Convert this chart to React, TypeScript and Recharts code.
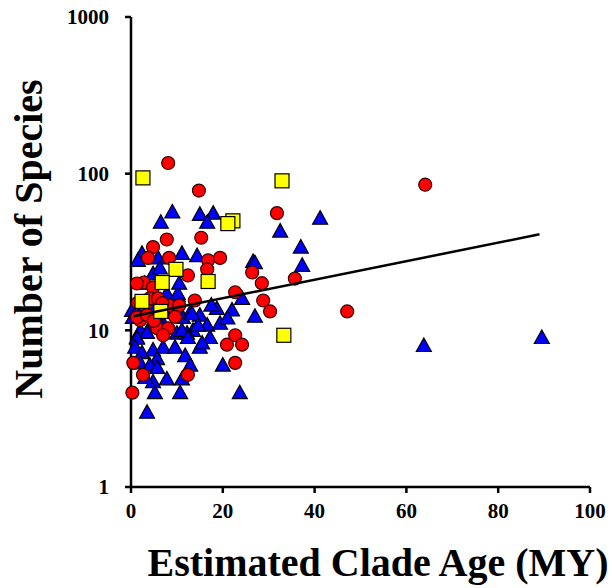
import { Label, Scatter, ScatterChart, XAxis, YAxis } from 'recharts';

// clade age (MY), number of species
const triangles: [number, number][] = [
  [9, 57], [6.5, 49], [15, 55], [17.9, 56], [16.6, 49], [32.5, 43], [37, 34], [37.3, 26],
  [26.6, 27.5], [27, 27], [14.4, 30], [11.1, 31], [2.4, 31], [1.5, 28], [41.2, 52], [63.8, 8], [89.5, 9],
  [5.9, 29], [4.8, 23], [6.3, 25], [7.8, 16.2], [10.2, 16.7], [0.2, 13.4], [0.4, 12.1], [2.0, 13],
  [8.5, 13], [11.3, 12.1], [12.9, 13], [15, 12.5], [13.5, 10], [16.6, 10.8], [12.2, 9.6], [10, 9.6],
  [2, 10], [1.3, 9], [4.1, 10.5], [7, 11.1], [7.8, 17.2], [10.2, 17.2], [13.3, 12.8], [18.7, 13.8],
  [19.4, 11.1], [24.2, 16], [27, 12.3], [3.5, 9.7], [6.3, 11.1], [11.1, 10], [12.4, 9], [14.6, 10.8],
  [17.2, 9], [15, 7.8], [1.3, 8.9], [0.9, 7.8], [2.4, 7.2], [4.8, 7.5], [7, 7.8], [9.6, 7.8],
  [5.7, 6.6], [11.8, 6.9], [2, 6.2], [4.1, 6], [5.7, 5.8], [12.9, 6], [20, 6], [7.8, 4.9],
  [11.1, 4.9], [4.8, 4.7], [5.2, 4], [10.7, 4], [23.7, 4], [3.5, 3], [15.5, 8.3], [3.1, 5],
  [2.6, 15], [4.5, 13.5], [9.5, 14], [17.5, 14.5], [22, 13.5], [3, 20], [10.5, 20], [21, 12],
];

const circles: [number, number][] = [
  [8.1, 117], [14.8, 78], [7.8, 38], [15.3, 39], [4.8, 34], [31.8, 56], [3.7, 29], [8.3, 29],
  [16.8, 28], [19.4, 29], [16.6, 24.5], [12.4, 22.4], [2.8, 20.2], [4.8, 18.8], [1.5, 15],
  [3.1, 14.4], [6.3, 14.4], [8.3, 14.4], [10.5, 14.4], [13.9, 15.5], [2.0, 11.6], [5.7, 10.3],
  [8.1, 10.3], [7, 9.3], [22.7, 17.5], [26.4, 23.4], [28.5, 20], [28.8, 15.5], [30.3, 13.2],
  [35.7, 21.4], [22.7, 9.3], [20.9, 8.1], [24.2, 8.1], [22.7, 6.2], [0.5, 6.2], [2.6, 5.2],
  [12.4, 5.2], [0.3, 4.0], [47.1, 13.2], [64.1, 85],
  [1.3, 19.9], [4.1, 16], [1.3, 12.1], [5.9, 16], [6.8, 14.9], [3.5, 12.5], [5, 11.5], [9.6, 12.2],
];

const squares: [number, number][] = [
  [2.6, 94], [32.9, 90], [22.2, 50], [21.1, 48], [16.8, 20.5], [9.8, 24.5], [6.8, 20.2],
  [2.4, 15.3], [6.5, 13.2], [33.3, 9.3],
];

const trend: [number, number][] = [[0.5, 12.3], [89, 41]];

const xTicks = [0, 20, 40, 60, 80, 100];
const yTicks = [1, 10, 100, 1000];

const toPoints = (rows: [number, number][]) => rows.map(([age, species]) => ({ age, species }));

const font = 'Liberation Serif, Times New Roman, serif';
const tickStyle = { fill: '#000', fontSize: 21, fontWeight: 700, fontFamily: font };

const Triangle = ({ cx, cy }: any) => (
  <path d={`M${cx},${cy - 7.5} L${cx + 7.5},${cy + 6} L${cx - 7.5},${cy + 6} Z`} fill="#0000ff" stroke="#000" strokeWidth={1.2} />
);

const Dot = ({ cx, cy }: any) => <circle cx={cx} cy={cy} r={6.5} fill="#ff0000" stroke="#300" strokeWidth={1.2} />;

const Box = ({ cx, cy }: any) => (
  <rect x={cx - 7} y={cy - 7} width={14} height={14} fill="#ffff00" stroke="#000" strokeWidth={1.2} />
);

export default function App() {
  return (
    <div style={{ position: 'absolute', left: 0, top: 0, width: 612, height: 588, background: '#fff' }}>
      <ScatterChart width={612} height={588} margin={{ top: 17, right: 22, left: 0, bottom: 0 }}>
        <XAxis
          type="number"
          dataKey="age"
          domain={[0, 100]}
          ticks={xTicks}
          height={101}
          tickSize={6}
          tickMargin={10}
          tick={tickStyle}
          axisLine={{ stroke: '#000', strokeWidth: 2.5 }}
          tickLine={{ stroke: '#000', strokeWidth: 2.5 }}
        >
          <Label
            content={() => (
              <text x={378} y={576} textAnchor="middle" fontFamily={font} fontWeight={700} fontSize={40} fill="#000">
                Estimated Clade Age (MY)
              </text>
            )}
          />
        </XAxis>
        <YAxis
          type="number"
          dataKey="species"
          scale="log"
          domain={[1, 1000]}
          ticks={yTicks}
          allowDataOverflow
          width={131}
          tickSize={6}
          tickMargin={16}
          tick={tickStyle}
          axisLine={{ stroke: '#000', strokeWidth: 2.5 }}
          tickLine={{ stroke: '#000', strokeWidth: 2.5 }}
        >
          <Label
            content={() => (
              <text
                x={42}
                y={239}
                transform="rotate(-90 42 239)"
                textAnchor="middle"
                fontFamily={font}
                fontWeight={700}
                fontSize={40}
                fill="#000"
              >
                Number of Species
              </text>
            )}
          />
        </YAxis>
        <Scatter data={toPoints(triangles)} shape={Triangle} isAnimationActive={false} />
        <Scatter data={toPoints(circles)} shape={Dot} isAnimationActive={false} />
        <Scatter data={toPoints(squares)} shape={Box} isAnimationActive={false} />
        <Scatter
          data={toPoints(trend)}
          line={{ stroke: '#000', strokeWidth: 2.5 }}
          shape={() => <g />}
          isAnimationActive={false}
        />
      </ScatterChart>
    </div>
  );
}
